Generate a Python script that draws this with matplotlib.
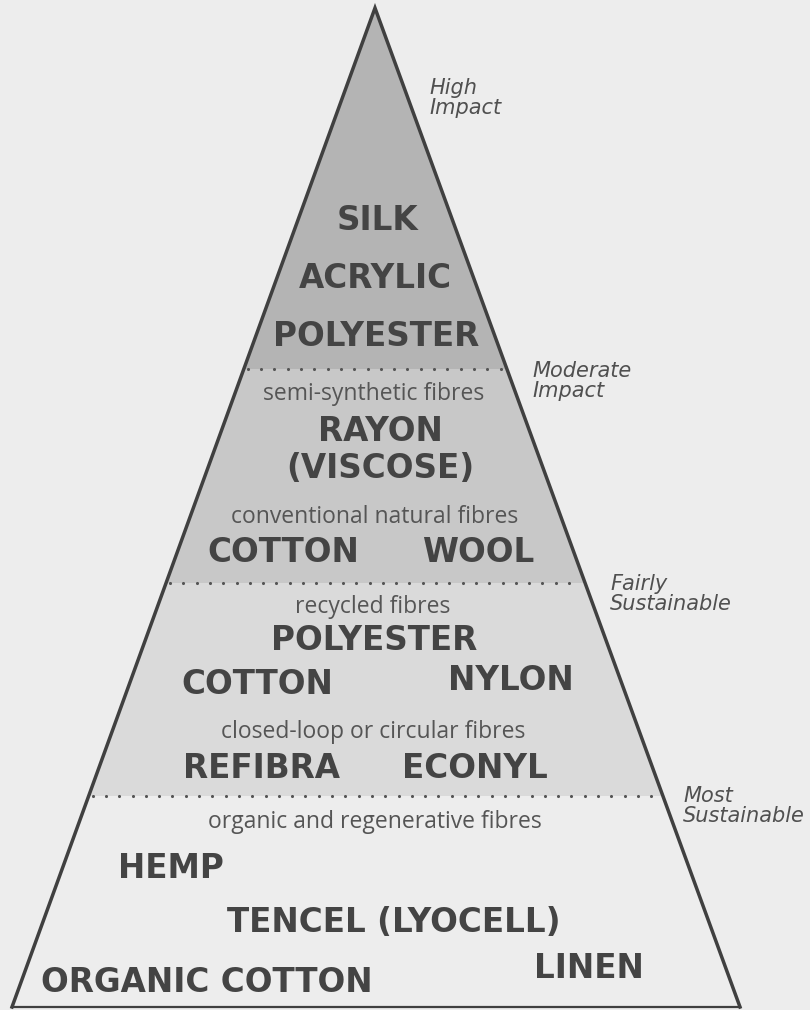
import matplotlib.pyplot as plt
from matplotlib.patches import Polygon
import numpy as np

# tiers, top to bottom
tier_names = ['High\nImpact', 'Moderate\nImpact', 'Fairly\nSustainable', 'Most\nSustainable']
tier_colors = ['#b4b4b4', '#c8c8c8', '#dadada', '#ededed']

# small grey captions inside the pyramid
captions = ['semi-synthetic fibres', 'conventional natural fibres', 'recycled fibres',
            'closed-loop or circular fibres', 'organic and regenerative fibres']

# fibre names per tier
fibres_high = ['SILK', 'ACRYLIC', 'POLYESTER']
fibres_moderate = ['RAYON\n(VISCOSE)', 'COTTON', 'WOOL']
fibres_fair = ['POLYESTER', 'COTTON', 'NYLON', 'REFIBRA', 'ECONYL']
fibres_most = ['HEMP', 'TENCEL (LYOCELL)', 'LINEN', 'ORGANIC COTTON']

# layout in pixel space (810 x 1010 canvas)
apex = (375, 8)
base_y = 1007
base_left, base_right = 12, 740
dividers = [369, 583, 796]

fibre_pos = {
    'high': [(377, 220), (375, 278), (376, 337)],
    'moderate': [(380, 450), (283, 553), (478, 553)],
    'fair': [(374, 640), (257, 684), (511, 681), (262, 768), (475, 768)],
    'most': [(171, 868), (394, 922), (589, 969), (207, 983)],
}
caption_pos = [(374, 394), (375, 517), (373, 607), (373, 732), (375, 822)]
tier_label_pos = [(429, 98), (532, 381), (610, 594), (683, 806)]

BG = '#ededed'
INK = '#444444'
BOLD = dict(family='DejaVu Sans', fontweight='bold', fontsize=23.5, color=INK,
            ha='center', va='center')
CAPTION = dict(family='Open Sans', fontsize=16.5, color='#555555', ha='center', va='center')


def edge_x(y):
    t = (y - apex[1]) / (base_y - apex[1])
    left = apex[0] + (base_left - apex[0]) * t
    right = apex[0] + (base_right - apex[0]) * t
    return left, right


fig = plt.figure(figsize=(8.1, 10.1), dpi=100, facecolor=BG)
ax = fig.add_axes([0, 0, 1, 1])
ax.set_xlim(0, 810)
ax.set_ylim(1010, 0)
ax.axis('off')

# bands
levels = [apex[1]] + dividers + [base_y]
for i, color in enumerate(tier_colors):
    y0, y1 = levels[i], levels[i + 1]
    l0, r0 = edge_x(y0)
    l1, r1 = edge_x(y1)
    ax.add_patch(Polygon([(l0, y0), (r0, y0), (r1, y1), (l1, y1)],
                         closed=True, facecolor=color, edgecolor='none', zorder=1))

# dotted dividers
for y in dividers:
    l, r = edge_x(y)
    xs = np.arange(l + 4, r - 6, 13.3)
    ax.scatter(xs, np.full_like(xs, y), s=5, color='#555555', zorder=3, linewidths=0)

# outline
ax.plot([base_left, apex[0], base_right], [base_y, apex[1], base_y],
        color='#404040', lw=2.5, solid_joinstyle='miter', zorder=4)
ax.plot([base_left, base_right], [base_y, base_y], color='#404040', lw=1.6, zorder=4)

# fibre names
for key, names in [('high', fibres_high), ('moderate', fibres_moderate),
                   ('fair', fibres_fair), ('most', fibres_most)]:
    for name, (x, y) in zip(names, fibre_pos[key]):
        ax.text(x, y, name, linespacing=1.15, zorder=5, **BOLD)

for text, (x, y) in zip(captions, caption_pos):
    ax.text(x, y, text, zorder=5, **CAPTION)

for text, (x, y) in zip(tier_names, tier_label_pos):
    ax.text(x, y, text, family='DejaVu Sans', style='italic', fontsize=15, color='#505050',
            ha='left', va='center', linespacing=0.95, zorder=5)

fig.savefig('out.png', dpi=100, facecolor=BG)
